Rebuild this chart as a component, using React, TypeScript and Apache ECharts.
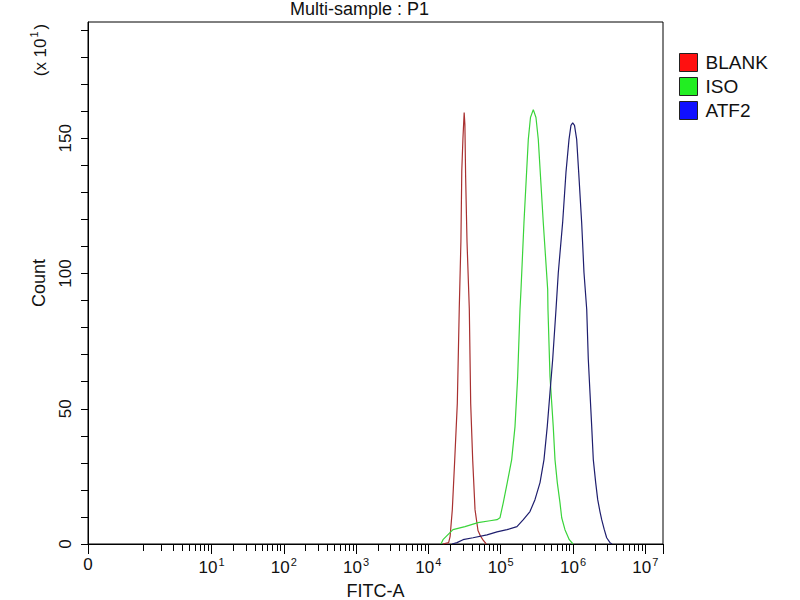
import React, { useEffect, useRef } from "react";
import * as echarts from "echarts";

// Flow-cytometry histogram "Multi-sample : P1"
// x values are positions on the display axis in decades: log10(FITC-A) for values >= 1;
// the axis origin (FITC-A = 0) sits at X_ZERO on that scale (bi-exponential style axis).
const X_ZERO = -0.708;
const X_MAX = 7.245;
const DECADES = [1, 2, 3, 4, 5, 6, 7];
const Y_MAX = 193;
const Y_TICKS = [0, 10, 20, 30, 40, 50, 60, 70, 80, 90, 100, 110, 120, 130, 140, 150, 160, 170, 180, 190];
const Y_LABELS = [0, 50, 100, 150];

const SERIES_NAMES = ["BLANK", "ISO", "ATF2"];
const LEGEND_COLORS = ["#ff1010", "#22ee22", "#1010ff"];
const LINE_COLORS = ["#a83030", "#3ad43a", "#1e1e6e"];

// BLANK
const BLANK_X = [4.2, 4.28, 4.3, 4.331, 4.364, 4.4, 4.427, 4.45, 4.462, 4.478, 4.495, 4.505, 4.515, 4.534, 4.566, 4.585, 4.613, 4.645, 4.686, 4.72, 4.755, 4.8];
const BLANK_Y = [0, 0.5, 2.7, 12.7, 31, 52, 87, 112, 138, 150, 159.5, 155, 136, 112, 87, 52, 31, 12.7, 5, 3, 1.5, 0];

// ISO
const ISO_X = [4.174, 4.202, 4.34, 4.506, 4.686, 4.852, 4.949, 4.99, 5.036, 5.091, 5.152, 5.198, 5.235, 5.267, 5.281, 5.322, 5.382, 5.412, 5.451, 5.488, 5.52, 5.589, 5.65, 5.654, 5.682, 5.727, 5.751, 5.783, 5.82, 5.844, 5.889, 5.949, 6.0];
const ISO_Y = [0, 1.6, 5.3, 6.4, 7.9, 8.6, 9.0, 9.7, 15.3, 22.7, 31.2, 43.4, 61.9, 86.7, 94.1, 118.9, 149.6, 157.7, 160.6, 157.7, 149.6, 118.9, 94.1, 86.7, 61.9, 43.4, 31.2, 22.7, 15.3, 9.7, 5.3, 1.6, 0];

// ATF2
const ATF2_X = [4.326, 4.396, 4.479, 4.617, 4.811, 4.949, 5.087, 5.225, 5.313, 5.405, 5.474, 5.544, 5.599, 5.644, 5.682, 5.719, 5.765, 5.797, 5.857, 5.903, 5.945, 5.972, 5.996, 6.021, 6.051, 6.079, 6.12, 6.152, 6.19, 6.212, 6.235, 6.259, 6.281, 6.314, 6.342, 6.373, 6.397, 6.433, 6.466, 6.512, 6.539];
const ATF2_Y = [0, 0.5, 1.6, 2.3, 3.4, 4.5, 5.3, 6.4, 9.0, 12.0, 16.4, 22.7, 31.2, 43.4, 56.0, 68.2, 86.7, 100.4, 118.9, 137.4, 149.6, 154.8, 155.7, 154.8, 149.6, 137.4, 118.9, 100.4, 86.7, 68.2, 56.0, 43.4, 31.2, 22.7, 16.4, 12.0, 9.0, 5.3, 2.3, 0.5, 0];

const FONT = "'Liberation Sans', Arial, sans-serif";
const TEXT_COLOR = "#111";

function pairs(xs: number[], ys: number[]) {
  return xs.map((x, i) => [x, ys[i]]);
}

export default function App() {
  const ref = useRef<HTMLDivElement>(null);

  useEffect(() => {
    if (!ref.current) return;
    const chart = echarts.init(ref.current, undefined, { renderer: "svg" });

    const majorTicks = [X_ZERO, ...DECADES, X_MAX];
    const minorTicks: number[] = [0.06];
    for (let k = 0; k < 7; k++) {
      for (let m = 2; m <= 9; m++) minorTicks.push(k + Math.log10(m));
    }
    const labelValues = [X_ZERO, ...DECADES];

    const datasets = [pairs(BLANK_X, BLANK_Y), pairs(ISO_X, ISO_Y), pairs(ATF2_X, ATF2_Y)];

    const option: any = {
      animation: false,
      backgroundColor: "#fff",
      textStyle: { fontFamily: FONT, color: TEXT_COLOR },
      title: {
        text: "Multi-sample : P1",
        left: 290,
        top: 0,
        padding: 0,
        textStyle: { fontSize: 18, fontWeight: "normal", color: TEXT_COLOR, fontFamily: FONT },
      },
      legend: {
        orient: "vertical",
        left: 679,
        top: 53,
        padding: 0,
        icon: "rect",
        itemWidth: 18,
        itemHeight: 18,
        itemGap: 5,
        selectedMode: false,
        textStyle: { fontSize: 19, color: TEXT_COLOR, fontFamily: FONT, padding: [0, 0, 0, 3] },
        itemStyle: { borderColor: "#222", borderWidth: 1 },
        data: SERIES_NAMES.map((n, i) => ({
          name: n,
          itemStyle: { color: LEGEND_COLORS[i], borderColor: "#222", borderWidth: 1 },
        })),
      },
      grid: {
        left: 88,
        right: 137,
        top: 22,
        bottom: 56,
        show: true,
        borderColor: "#000",
        borderWidth: 1,
        backgroundColor: "transparent",
        containLabel: false,
        outerBoundsMode: "none",
      },
      graphic: [
        {
          type: "text",
          x: 40,
          y: 50,
          rotation: Math.PI / 2,
          style: {
            text: "{a|(x 10}{s|1}{a|)}",
            align: "center",
            verticalAlign: "middle",
            fill: TEXT_COLOR,
            rich: {
              a: { fontSize: 17, fontFamily: FONT, fill: TEXT_COLOR },
              s: { fontSize: 11, fontFamily: FONT, fill: TEXT_COLOR, padding: [0, 2, 12, 1] },
            },
          },
        },
      ],
      xAxis: [
        {
          type: "value",
          min: X_ZERO,
          max: X_MAX,
          name: "FITC-A",
          nameLocation: "middle",
          nameGap: 38,
          nameMoveOverlap: false,
          nameTextStyle: { fontSize: 18, color: TEXT_COLOR, fontFamily: FONT },
          axisLine: { show: true, onZero: false, lineStyle: { color: "#000", width: 1 } },
          axisTick: { show: true, customValues: majorTicks, length: 10, lineStyle: { color: "#000", width: 1 } },
          axisLabel: {
            show: true,
            customValues: labelValues,
            margin: 12,
            color: TEXT_COLOR,
            formatter: (v: number) => {
              if (v < 0.5) return "{b|0}";
              return "{b|10}{s|" + Math.round(v) + "}";
            },
            rich: {
              b: { fontSize: 17, fontFamily: FONT, color: TEXT_COLOR },
              s: { fontSize: 11, fontFamily: FONT, color: TEXT_COLOR, padding: [0, 0, 12, 1] },
            },
          },
          splitLine: { show: false },
        },
        {
          type: "value",
          min: X_ZERO,
          max: X_MAX,
          position: "bottom",
          axisLine: { show: false, onZero: false },
          axisTick: { show: true, customValues: minorTicks, length: 7, lineStyle: { color: "#000", width: 1 } },
          axisLabel: { show: false },
          splitLine: { show: false },
        },
      ],
      yAxis: {
        type: "value",
        min: 0,
        max: Y_MAX,
        name: "Count",
        nameLocation: "middle",
        nameGap: 40,
        nameMoveOverlap: false,
        nameTextStyle: { fontSize: 18, color: TEXT_COLOR, fontFamily: FONT },
        axisLine: { show: true, onZero: false, lineStyle: { color: "#000", width: 1 } },
        axisTick: { show: true, customValues: Y_TICKS, length: 7, lineStyle: { color: "#000", width: 1 } },
        axisLabel: {
          show: true,
          customValues: Y_LABELS,
          rotate: 90,
          margin: 14,
          fontSize: 17,
          color: TEXT_COLOR,
          fontFamily: FONT,
        },
        splitLine: { show: false },
      },
      series: SERIES_NAMES.map((n, i) => ({
        name: n,
        type: "line",
        xAxisIndex: 0,
        data: datasets[i],
        showSymbol: false,
        symbol: "none",
        lineStyle: { color: LINE_COLORS[i], width: 1.2 },
        itemStyle: { color: LEGEND_COLORS[i] },
        z: 2 + i,
      })),
    };

    chart.setOption(option);
    return () => chart.dispose();
  }, []);

  return (
    <div
      ref={ref}
      style={{ position: "fixed", left: 0, top: 0, width: 800, height: 600, background: "#fff" }}
    />
  );
}
